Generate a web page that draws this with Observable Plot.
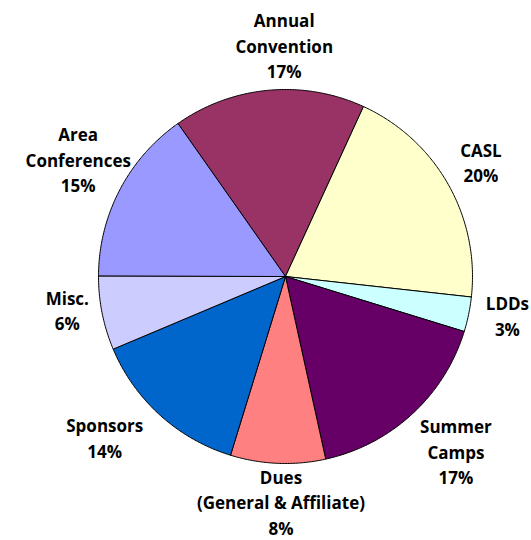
<!DOCTYPE html>
<html>
<head>
<meta charset="utf-8">
<script src="https://cdn.jsdelivr.net/npm/d3@7"></script>
<script src="https://cdn.jsdelivr.net/npm/@observablehq/plot@0.6"></script>
<style>
  html, body { margin: 0; padding: 0; background: #fff; }
  #chart svg { display: block; }
</style>
</head>
<body>
<div id="chart"></div>
<script>
// ---- data ----
const categories = ["Annual\nConvention", "CASL", "LDDs", "Summer\nCamps", "Dues\n(General & Affiliate)", "Sponsors", "Misc.", "Area\nConferences"];
const shares = [16.6, 19.9, 3.0, 16.8, 8.2, 13.9, 6.4, 15.2];
const percentLabels = ["17%", "20%", "3%", "17%", "8%", "14%", "6%", "15%"];
const sliceColors = ["#993366", "#FFFFCC", "#CCFFFF", "#660066", "#FF8080", "#0066CC", "#CCCCFF", "#9999FF"];

// ---- layout (not data) ----
const W = 531, H = 540;
const cx = 285, cy = 276, R = 187;        // pixel centre & radius
const startAngle = -35.1;                 // degrees clockwise from 12 o'clock
const labelRadius = 1.25;                 // in radius units
const labelNudge = [[20, 1], [-8, 0], [-7, -9], [12, 2], [5, -9], [-24, -13], [11, -13], [0, -10]]; // px

const total = d3.sum(shares);
const toRad = d => d * Math.PI / 180;

// slice polygons in unit coordinates (y up)
const polys = [];
const labels = [];
let a0 = startAngle;
shares.forEach((v, i) => {
  const sweep = v / total * 360;
  const a1 = a0 + sweep;
  const name = categories[i];
  polys.push({name, x: 0, y: 0});
  const n = Math.max(2, Math.ceil(sweep / 0.5));
  for (let k = 0; k <= n; k++) {
    const a = toRad(a0 + sweep * k / n);
    polys.push({name, x: Math.sin(a), y: Math.cos(a)});
  }
  polys.push({name, x: 0, y: 0});
  const mid = toRad(a0 + sweep / 2);
  labels.push({
    name,
    text: name + "\n" + percentLabels[i],
    x: labelRadius * Math.sin(mid) + labelNudge[i][0] / R,
    y: labelRadius * Math.cos(mid) - labelNudge[i][1] / R
  });
  a0 = a1;
});

const chart = Plot.plot({
  width: W,
  height: H,
  margin: 0,
  style: {background: "#fff", overflow: "visible"},
  x: {domain: [-cx / R, (W - cx) / R], axis: null},
  y: {domain: [(cy - H) / R, cy / R], axis: null},
  color: {domain: categories, range: sliceColors},
  marks: [
    Plot.line(polys, {x: "x", y: "y", z: "name", fill: "name", stroke: "#000", strokeWidth: 1, curve: "linear", strokeLinejoin: "round"}),
    Plot.text(labels, {
      x: "x", y: "y", text: "text",
      fontFamily: "'Open Sans', sans-serif",
      fontWeight: "bold",
      fontSize: 17,
      lineHeight: 1.5,
      fill: "#000",
      textAnchor: "middle",
      lineAnchor: "middle"
    })
  ]
});
document.getElementById("chart").appendChild(chart);
</script>
</body>
</html>
